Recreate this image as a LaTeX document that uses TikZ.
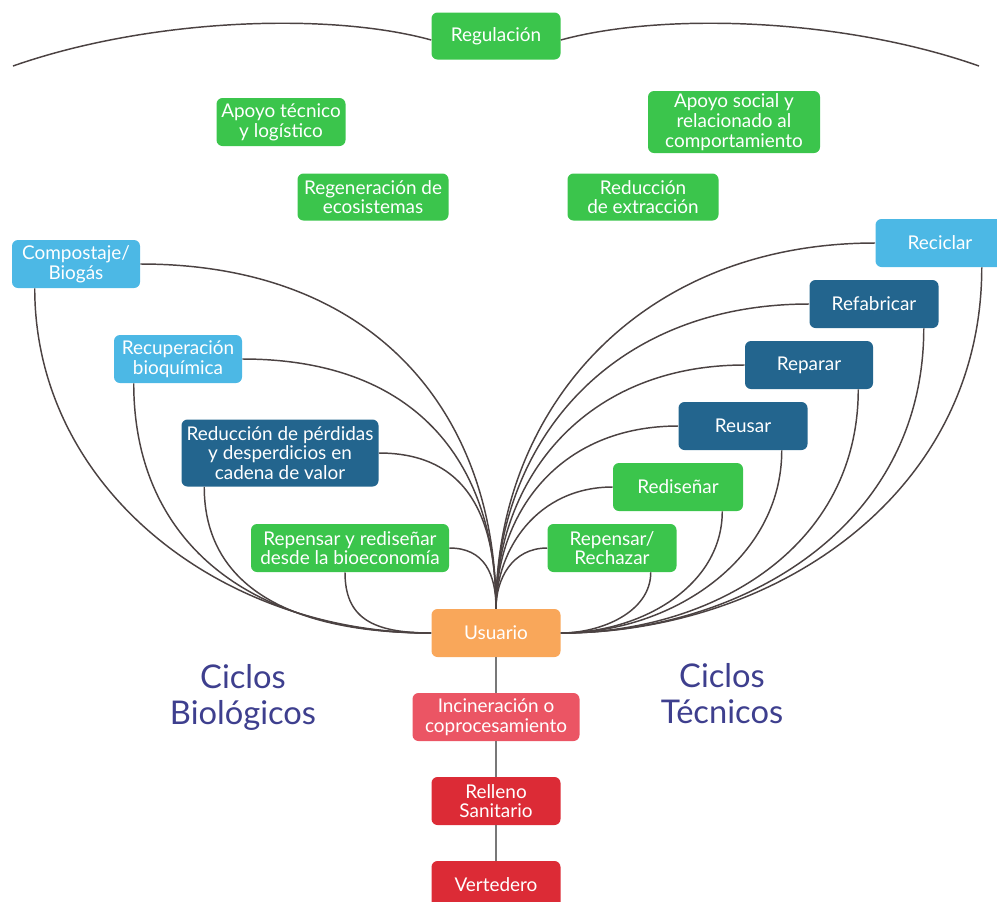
\documentclass[tikz,border=0pt]{standalone}
\usepackage{fontspec}
\setmainfont{Lato}
\definecolor{cgreen}{RGB}{59,197,76}
\definecolor{clblue}{RGB}{76,184,229}
\definecolor{cdblue}{RGB}{35,101,142}
\definecolor{corange}{RGB}{249,167,90}
\definecolor{cpink}{RGB}{235,85,100}
\definecolor{cred}{RGB}{220,43,54}
\definecolor{linec}{RGB}{75,66,66}
\definecolor{vlinec}{RGB}{120,120,120}
\definecolor{ctext}{RGB}{62,63,142}
\begin{document}
\begin{tikzpicture}[x=0.75pt,y=-0.75pt,
  box/.style={rounded corners=4.5pt, text=white, align=center, inner sep=0pt,
    font=\fontsize{14.2}{14.8}\selectfont},
  bw/.style={minimum width=#1*0.75pt},
  bh/.style={minimum height=#1*0.75pt},
  gbox/.style={box, fill=cgreen},
  lbbox/.style={box, fill=clblue},
  dbbox/.style={box, fill=cdblue},
  obox/.style={box, fill=corange},
  pbox/.style={box, fill=cpink},
  rbox/.style={box, fill=cred},
  link/.style={draw=linec, line width=1.1pt},
  vlink/.style={draw=vlinec, line width=1.2pt},
  big/.style={text=ctext, align=center, font=\fontsize{24.5}{27}\selectfont}
]
\useasboundingbox (0,0) rectangle (997,901);

% top nodes
\node[gbox, bw=129, bh=47] (reg) at (496,36) {Regulación};
\node[gbox, bw=129, bh=48] (apt) at (281,122) {Apoyo técnico\\y logístico};
\node[gbox, bw=151, bh=47] (regen) at (373,197) {Regeneración de\\ecosistemas};
\node[gbox, bw=172, bh=62] (aps) at (734,122) {Apoyo social y\\relacionado al\\comportamiento};
\node[gbox, bw=151, bh=47] (rext) at (643,197) {Reducción\\de extracción};

% left (biological) nodes
\node[lbbox, bw=128, bh=48] (comp) at (76,264) {Compostaje/\\Biogás};
\node[lbbox, bw=128, bh=48] (recb) at (178,359) {Recuperación\\bioquímica};
\node[dbbox, bw=197, bh=67] (rper) at (280,453) {Reducción de pérdidas\\y desperdicios en\\cadena de valor};
\node[gbox, bw=198, bh=48] (rrb) at (350,548) {Repensar y rediseñar\\desde la bioeconomía};

% right (technical) nodes
\node[lbbox, bw=129, bh=48] (recic) at (940,243) {Reciclar};
\node[dbbox, bw=129, bh=48] (refab) at (874,304) {Refabricar};
\node[dbbox, bw=128, bh=48] (repar) at (809,365) {Reparar};
\node[dbbox, bw=129, bh=48] (reus) at (743,426) {Reusar};
\node[gbox, bw=130, bh=48] (redis) at (678,487) {Rediseñar};
\node[gbox, bw=129, bh=48] (rrech) at (612,548) {Repensar/\\Rechazar};

% central column
\node[obox, bw=129, bh=48] (usu) at (496,633) {Usuario};
\node[pbox, bw=167, bh=48] (inc) at (496,717) {Incineración o\\coprocesamiento};
\node[rbox, bw=129, bh=48] (rell) at (496,801) {Relleno\\Sanitario};
\node[rbox, bw=129, bh=48] (vert) at (496,885) {Vertedero};

\node[big] (cbio) at (243,697) {Ciclos\\Biológicos};
\node[big] (ctec) at (722,693.7) {Ciclos\\Técnicos};

% top arc
\coordinate (tl) at (13,66);
\coordinate (tr) at (979,66);
\draw[link] (tl) .. controls (150,18) and (330,12) .. ([yshift=-3pt]reg.west);
\draw[link] ([yshift=-3pt]reg.east) .. controls (663,12) and (843,18) .. (tr);

% left inner curves -> top of Usuario
\draw[link] (comp.east) .. controls +(240,0) and +(0,-190) .. (usu.north);
\draw[link] (recb.east) .. controls +(180,0) and +(0,-140) .. (usu.north);
\draw[link] (rper.east) .. controls +(90,0) and +(0,-90) .. (usu.north);
\draw[link] (rrb.east) .. controls +(35,0) and +(0,-35) .. (usu.north);

% left bottom curves -> left of Usuario
\draw[link] ([xshift=17.25pt]comp.south west) .. controls +(0,200) and +(-210,0) .. (usu.west);
\draw[link] ([xshift=15pt]recb.south west) .. controls +(0,160) and +(-180,0) .. (usu.west);
\draw[link] ([xshift=17.25pt]rper.south west) .. controls +(0,100) and +(-140,0) .. (usu.west);
\draw[link] ([xshift=-3.75pt]rrb.south) .. controls +(0,45) and +(-60,0) .. (usu.west);

% right inner curves -> top of Usuario
\draw[link] (recic.west) .. controls +(-236,0) and +(0,-200) .. (usu.north);
\draw[link] (refab.west) .. controls +(-200,0) and +(0,-165) .. (usu.north);
\draw[link] (repar.west) .. controls +(-160,0) and +(0,-130) .. (usu.north);
\draw[link] (reus.west) .. controls +(-120,0) and +(0,-95) .. (usu.north);
\draw[link] (redis.west) .. controls +(-75,0) and +(0,-60) .. (usu.north);
\draw[link] (rrech.west) .. controls +(-35,0) and +(0,-30) .. (usu.north);

% right bottom curves -> right of Usuario
\draw[link] ([xshift=-17.25pt]recic.south east) .. controls +(0,230) and +(210,0) .. (usu.east);
\draw[link] ([xshift=-11.25pt]refab.south east) .. controls +(0,200) and +(180,0) .. (usu.east);
\draw[link] ([xshift=-11.25pt]repar.south east) .. controls +(0,160) and +(150,0) .. (usu.east);
\draw[link] ([xshift=-19.5pt]reus.south east) .. controls +(0,110) and +(110,0) .. (usu.east);
\draw[link] ([xshift=-15.75pt]redis.south east) .. controls +(0,75) and +(80,0) .. (usu.east);
\draw[link] ([xshift=-19.5pt]rrech.south east) .. controls +(0,40) and +(40,0) .. (usu.east);

% vertical chain
\draw[vlink] (usu) -- (inc);
\draw[vlink] (inc) -- (rell);
\draw[vlink] (rell) -- (vert);
\end{tikzpicture}
\end{document}
